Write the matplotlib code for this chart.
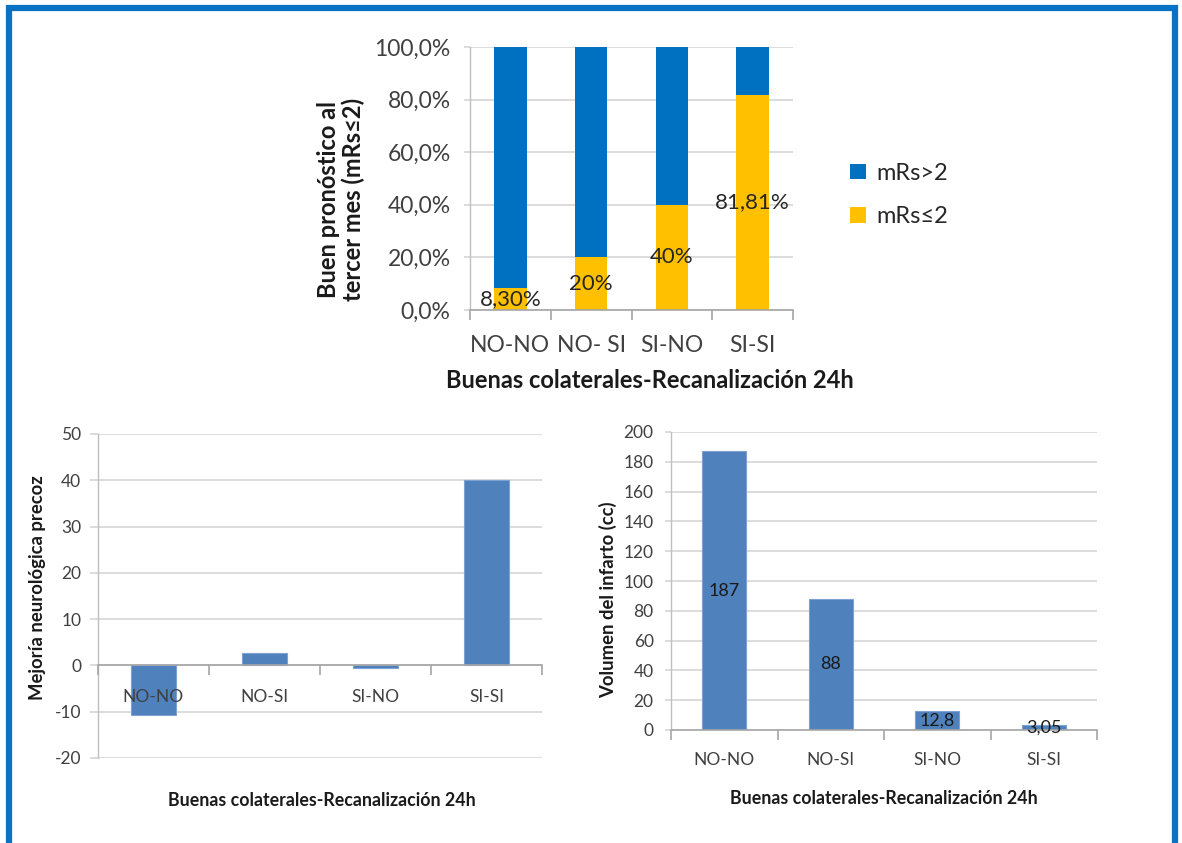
import matplotlib
matplotlib.use("Agg")
import matplotlib.pyplot as plt
from matplotlib.patches import Rectangle, Patch
from matplotlib.ticker import FixedLocator, FuncFormatter

plt.rcParams['font.family'] = ['Lato', 'DejaVu Sans']
plt.rcParams['axes.unicode_minus'] = False

# ---- data ----
categories_top = ['NO-NO', 'NO- SI', 'SI-NO', 'SI-SI']
good_outcome = [8.30, 20, 40, 81.81]            # mRs<=2 (%)
poor_outcome = [100 - v for v in good_outcome]  # mRs>2 (%)
top_ticks = [0, 20, 40, 60, 80, 100]

categories = ['NO-NO', 'NO-SI', 'SI-NO', 'SI-SI']
early_improvement = [-10.8, 2.6, -0.5, 40]
infarct_volume = [187, 88, 12.8, 3.05]

W, H = 1182, 843
fig = plt.figure(figsize=(W / 100, H / 100), dpi=100)
fig.patch.set_facecolor('white')

def px_axes(left, top, right, bottom):
    return fig.add_axes([left / W, 1 - bottom / H, (right - left) / W, (bottom - top) / H])

def fx(x):
    return x / W

def fy(y):
    return 1 - y / H

BLUE = '#0070C0'
YELLOW = '#FFC000'
BAR = '#4F81BD'
GRID = '#D9D9D9'
AXIS = '#BFBFBF'
TXT = '#404040'
DARK = '#1a1a1a'

# outer frame
fig.patches.append(Rectangle((fx(9), fy(846)), fx(1175) - fx(9), fy(8) - fy(846),
                             transform=fig.transFigure, fill=False,
                             edgecolor='#0A72C4', linewidth=4.5))

def style_axes(ax, ylim, yticks, fontsize, ticklen, pad):
    ax.set_xlim(-0.5, 3.5)
    ax.set_ylim(*ylim)
    ax.yaxis.set_major_locator(FixedLocator(yticks))
    ax.grid(axis='y', color=GRID, linewidth=1.3, zorder=0)
    ax.set_axisbelow(True)
    for s in ['top', 'right']:
        ax.spines[s].set_visible(False)
    ax.spines['left'].set_color(AXIS)
    ax.spines['left'].set_linewidth(1.0)
    ax.spines['bottom'].set_color('#A6A6A6')
    ax.spines['bottom'].set_linewidth(1.2)
    ax.tick_params(axis='y', length=ticklen, width=1.3, color=GRID, pad=pad,
                   labelsize=fontsize, labelcolor=TXT)
    ax.tick_params(axis='x', which='major', length=0, labelsize=fontsize,
                   labelcolor=TXT)
    ax.xaxis.set_minor_locator(FixedLocator([-0.5, 0.5, 1.5, 2.5, 3.5]))
    ax.tick_params(axis='x', which='minor', length=7, width=1.2, color='#A6A6A6')
    ax.set_xticks(range(len(categories)))

# ---- top: stacked percentages ----
ax1 = px_axes(470, 47, 793, 310)
style_axes(ax1, (0, 100), top_ticks, 16.5, 4.5, 9.5)
x = range(len(categories_top))
ax1.bar(x, good_outcome, width=0.4, color=YELLOW, zorder=2, label='mRs≤2')
ax1.bar(x, poor_outcome, width=0.4, bottom=good_outcome, color=BLUE, zorder=2,
        label='mRs>2')
ax1.set_xticklabels(categories_top)
ax1.tick_params(axis='x', which='major', pad=18)
ax1.yaxis.set_major_formatter(FuncFormatter(lambda v, p: f"{v:.1f}%".replace('.', ',')))

def pct_label(v):
    s = f"{v:.0f}" if float(v).is_integer() else f"{v:.2f}"
    return s.replace('.', ',') + '%'

for xi, v in zip(x, good_outcome):
    ax1.text(xi, v / 2, pct_label(v), ha='center', va='center', fontsize=16,
             color='#262626', zorder=3)

fig.text(fx(341), fy(199), 'Buen pronóstico al\ntercer mes (mRs≤2)', rotation=90,
         ha='center', va='center', fontsize=17, fontweight='bold',
         color=DARK, linespacing=1.1)
fig.text(fx(650), fy(381), 'Buenas colaterales-Recanalización 24h', ha='center',
         va='center', fontsize=17, fontweight='bold', color=DARK)

handles = [Patch(facecolor=BLUE, label='mRs>2'), Patch(facecolor=YELLOW, label='mRs≤2')]
fig.legend(handles=handles, loc='center left', bbox_to_anchor=(fx(829), fy(195)),
           frameon=False, fontsize=17, handlelength=0.65, handleheight=0.65,
           handletextpad=0.45, labelspacing=0.95, labelcolor='#262626')

# ---- bottom left: early neurological improvement ----
ax2 = px_axes(98, 434, 542, 758)
style_axes(ax2, (-20, 50), list(range(-20, 51, 10)), 12.5, 6, 6)
ax2.bar(range(len(categories)), early_improvement, width=0.4, color=BAR,
        edgecolor='#7DA2D1', linewidth=0.8, zorder=2)
ax2.spines['bottom'].set_position(('data', 0))
ax2.set_xticklabels(categories)
ax2.tick_params(axis='x', which='major', pad=17)
ax2.xaxis.set_zorder(3)  # category names stay readable over the negative bar
fig.text(fx(38), fy(588), 'Mejoría neurológica precoz', rotation=90, ha='center',
         va='center', fontsize=13.3, fontweight='bold', color=DARK)
fig.text(fx(322), fy(800), 'Buenas colaterales-Recanalización 24h', ha='center',
         va='center', fontsize=12.8, fontweight='bold', color=DARK)

# ---- bottom right: infarct volume ----
ax3 = px_axes(671, 432, 1097, 730)
style_axes(ax3, (0, 200), list(range(0, 201, 20)), 12.5, 4.5, 8)
ax3.bar(range(len(categories)), infarct_volume, width=0.41, color=BAR,
        edgecolor='#7DA2D1', linewidth=0.8, zorder=2)
ax3.set_xticklabels(categories)
ax3.tick_params(axis='x', which='major', pad=16)
for xi, v in enumerate(infarct_volume):
    ax3.text(xi, v / 2, f"{v:g}".replace('.', ','), ha='center', va='center',
             fontsize=13, color=DARK, zorder=3)
fig.text(fx(608), fy(600), 'Volumen del infarto (cc)', rotation=90, ha='center',
         va='center', fontsize=13.3, fontweight='bold', color=DARK)
fig.text(fx(884), fy(798), 'Buenas colaterales-Recanalización 24h', ha='center',
         va='center', fontsize=12.8, fontweight='bold', color=DARK)

fig.savefig('out.png', dpi=100, facecolor='white')
